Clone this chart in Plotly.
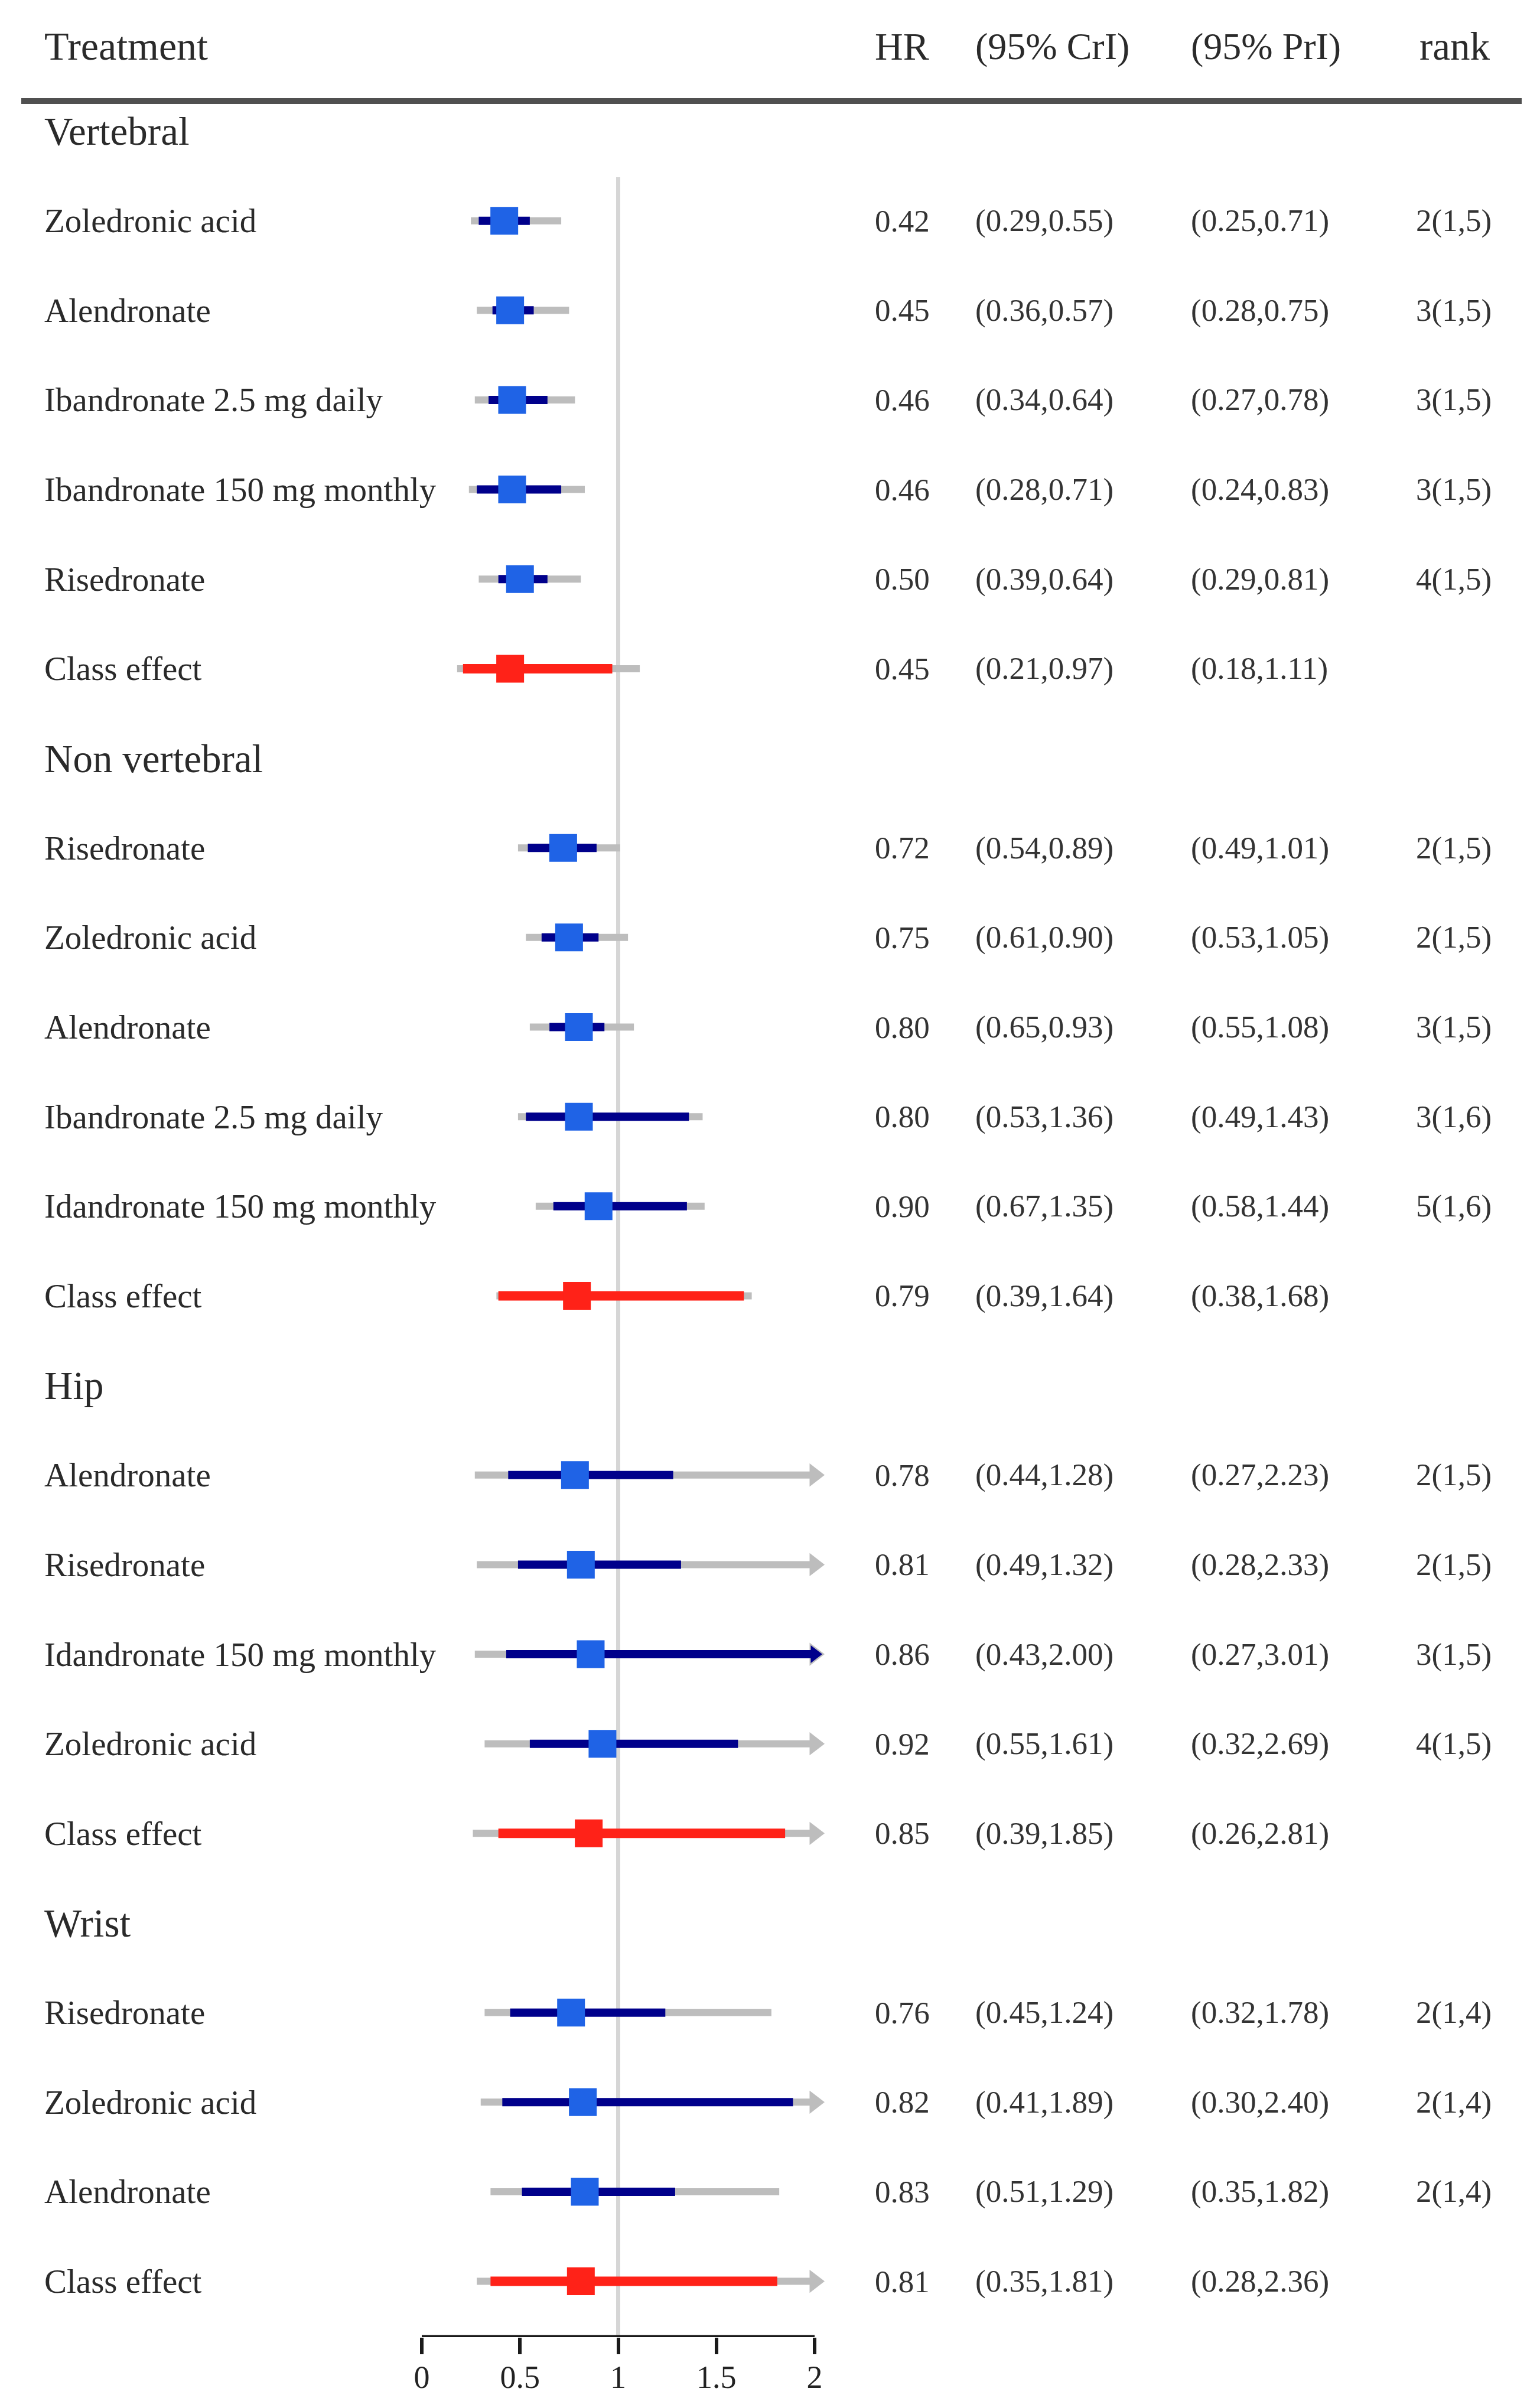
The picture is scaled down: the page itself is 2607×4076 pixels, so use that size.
import plotly.graph_objects as go

# ---------------- data ----------------
section_names = ["Vertebral", "Non vertebral", "Hip", "Wrist"]
section_sizes = [6, 6, 5, 4]

treatments = [
    "Zoledronic acid", "Alendronate", "Ibandronate 2.5 mg daily", "Ibandronate 150 mg monthly",
    "Risedronate", "Class effect",
    "Risedronate", "Zoledronic acid", "Alendronate", "Ibandronate 2.5 mg daily",
    "Idandronate 150 mg monthly", "Class effect",
    "Alendronate", "Risedronate", "Idandronate 150 mg monthly", "Zoledronic acid", "Class effect",
    "Risedronate", "Zoledronic acid", "Alendronate", "Class effect",
]
hr = [0.42, 0.45, 0.46, 0.46, 0.50, 0.45,
      0.72, 0.75, 0.80, 0.80, 0.90, 0.79,
      0.78, 0.81, 0.86, 0.92, 0.85,
      0.76, 0.82, 0.83, 0.81]
cri_lo = [0.29, 0.36, 0.34, 0.28, 0.39, 0.21,
          0.54, 0.61, 0.65, 0.53, 0.67, 0.39,
          0.44, 0.49, 0.43, 0.55, 0.39,
          0.45, 0.41, 0.51, 0.35]
cri_hi = [0.55, 0.57, 0.64, 0.71, 0.64, 0.97,
          0.89, 0.90, 0.93, 1.36, 1.35, 1.64,
          1.28, 1.32, 2.00, 1.61, 1.85,
          1.24, 1.89, 1.29, 1.81]
pri_lo = [0.25, 0.28, 0.27, 0.24, 0.29, 0.18,
          0.49, 0.53, 0.55, 0.49, 0.58, 0.38,
          0.27, 0.28, 0.27, 0.32, 0.26,
          0.32, 0.30, 0.35, 0.28]
pri_hi = [0.71, 0.75, 0.78, 0.83, 0.81, 1.11,
          1.01, 1.05, 1.08, 1.43, 1.44, 1.68,
          2.23, 2.33, 3.01, 2.69, 2.81,
          1.78, 2.40, 1.82, 2.36]
ranks = ["2(1,5)", "3(1,5)", "3(1,5)", "3(1,5)", "4(1,5)", "",
         "2(1,5)", "2(1,5)", "3(1,5)", "3(1,6)", "5(1,6)", "",
         "2(1,5)", "2(1,5)", "3(1,5)", "4(1,5)", "",
         "2(1,4)", "2(1,4)", "2(1,4)", ""]
x_tick_vals = [0, 0.5, 1, 1.5, 2]
x_tick_text = ["0", "0.5", "1", "1.5", "2"]
header_cols = ["Treatment", "HR", "(95% CrI)", "(95% PrI)", "rank"]
x_max = 2.0

# ---------------- layout helpers ----------------
W, H = 2607, 4076
OFF = 8  # default page body margin
FONT = "Liberation Serif"
TXT = "#2a2a2a"
GRAY = "#bdbdbd"
NAVY = "#00008b"
BLUE = "#1f63e6"
RED = "#ff2218"

row_slot, sec_slot = [], []
s = 0
for name, n in zip(section_names, section_sizes):
    sec_slot.append(s)
    s += 1
    for _ in range(n):
        row_slot.append(s)
        s += 1

px0, px2 = 714.0 - OFF, 1379.0 - OFF
xr = [-0.25, 2.25]
ppu = (px2 - px0) / 2.0
dom_x = [(px0 + xr[0] * ppu) / W, (px0 + xr[1] * ppu) / W]
slot0_px, slot_sp = 214.0, 151.65
axis_px = 3948.0
y_bottom = (axis_px - slot0_px) / slot_sp
y_top = (0 - slot0_px) / slot_sp
dom_y = [(H - axis_px) / H, 1.0]
hdr_y = (70.0 - slot0_px) / slot_sp
rule_y = (163.0 - slot0_px) / slot_sp
ref_top = (292.0 - slot0_px) / slot_sp


def px_x(p):
    return (p - OFF) / W


is_class = [t == "Class effect" for t in treatments]

fig = go.Figure()

fig.add_trace(go.Scatter(x=[1, 1], y=[ref_top, y_bottom], mode="lines",
                         line=dict(color="#d6d6d6", width=7), hoverinfo="skip"))

gx, gy = [], []
for lo, hi, y in zip(pri_lo, pri_hi, row_slot):
    gx += [lo, min(hi, x_max), None]
    gy += [y, y, None]
fig.add_trace(go.Scatter(x=gx, y=gy, mode="lines", line=dict(color=GRAY, width=12),
                         hoverinfo="skip"))
ax_ = [x_max for hi in pri_hi if hi > x_max]
ay_ = [y for hi, y in zip(pri_hi, row_slot) if hi > x_max]
fig.add_trace(go.Scatter(x=ax_, y=ay_, mode="markers",
                         marker=dict(symbol="triangle-right", size=34, color=GRAY, line=dict(width=0)),
                         hoverinfo="skip"))

for cls, col, wid in [(False, NAVY, 14), (True, RED, 16)]:
    cx, cy = [], []
    for lo, hi, y, c in zip(cri_lo, cri_hi, row_slot, is_class):
        if c == cls:
            cx += [lo, min(hi, x_max), None]
            cy += [y, y, None]
    fig.add_trace(go.Scatter(x=cx, y=cy, mode="lines", line=dict(color=col, width=wid),
                             hoverinfo="skip"))
nx_ = [x_max for hi, c in zip(cri_hi, is_class) if hi >= x_max and not c]
ny_ = [y for hi, y, c in zip(cri_hi, row_slot, is_class) if hi >= x_max and not c]
fig.add_trace(go.Scatter(x=nx_, y=ny_, mode="markers",
                         marker=dict(symbol="triangle-right", size=26, color=NAVY, line=dict(width=0)),
                         hoverinfo="skip"))

fig.add_trace(go.Scatter(
    x=hr, y=row_slot, mode="markers",
    marker=dict(symbol="square", size=47, color=[RED if c else BLUE for c in is_class],
                line=dict(width=0)),
    hoverinfo="skip"))

# ---------------- text ----------------
ann = []
col_x = [73, 1479, 1649, 2014, 2401]
hdr_sizes = [68, 66, 64, 64, 67]
for t, x, fs in zip(header_cols, col_x, hdr_sizes):
    ann.append(dict(x=px_x(x), y=hdr_y, xref="paper", yref="y", text=t, showarrow=False,
                    xanchor="left", yanchor="middle", font=dict(family=FONT, size=fs, color=TXT)))
for name, y in zip(section_names, sec_slot):
    ann.append(dict(x=px_x(73), y=y, xref="paper", yref="y", text=name, showarrow=False,
                    xanchor="left", yanchor="middle", font=dict(family=FONT, size=67, color=TXT)))
for i, y in enumerate(row_slot):
    ann.append(dict(x=px_x(73), y=y, xref="paper", yref="y", text=treatments[i], showarrow=False,
                    xanchor="left", yanchor="middle", font=dict(family=FONT, size=57, color=TXT)))
    vals = [f"{hr[i]:.2f}", f"({cri_lo[i]:.2f},{cri_hi[i]:.2f})",
            f"({pri_lo[i]:.2f},{pri_hi[i]:.2f})", ranks[i]]
    for v, x in zip(vals, [1479, 1649, 2014, 2395]):
        if v:
            ann.append(dict(x=px_x(x), y=y, xref="paper", yref="y", text=v, showarrow=False,
                            xanchor="left", yanchor="middle",
                            font=dict(family=FONT, size=53, color="#333333")))

shapes = [
    dict(type="line", xref="paper", yref="y", x0=px_x(36), x1=px_x(2576), y0=rule_y, y1=rule_y,
         line=dict(color="#505050", width=10)),
    dict(type="line", xref="x", yref="y", x0=0, x1=2, y0=y_bottom, y1=y_bottom,
         line=dict(color="#1a1a1a", width=7)),
]

fig.update_layout(
    width=W, height=H, margin=dict(l=0, r=0, t=0, b=0),
    paper_bgcolor="white", plot_bgcolor="white", showlegend=False,
    annotations=ann, shapes=shapes,
    xaxis=dict(domain=dom_x, range=xr, showgrid=False, zeroline=False, showline=False,
               tickvals=x_tick_vals, ticktext=x_tick_text, ticks="outside", ticklen=28,
               tickwidth=6, tickcolor="#1a1a1a", ticklabelstandoff=-8,
               tickfont=dict(family=FONT, size=54, color="#222222")),
    yaxis=dict(domain=dom_y, range=[y_bottom, y_top], showgrid=False, zeroline=False,
               showline=False, showticklabels=False, ticks=""),
)

fig.write_html("out.html")
